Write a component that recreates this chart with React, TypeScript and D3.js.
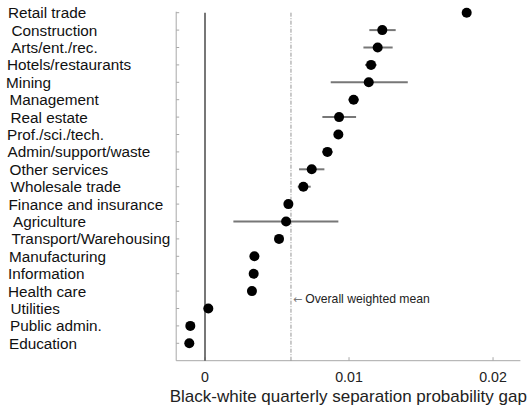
import React from "react";
import * as d3 from "d3";

// Industries, ordered top to bottom
const industries = [
  "Retail trade",
  "Construction",
  "Arts/ent./rec.",
  "Hotels/restaurants",
  "Mining",
  "Management",
  "Real estate",
  "Prof./sci./tech.",
  "Admin/support/waste",
  "Other services",
  "Wholesale trade",
  "Finance and insurance",
  "Agriculture",
  "Transport/Warehousing",
  "Manufacturing",
  "Information",
  "Health care",
  "Utilities",
  "Public admin.",
  "Education",
];

// Point estimates of the Black-white separation probability gap
const estimates = [
  0.01817, 0.01231, 0.01199, 0.01153, 0.01137, 0.01032, 0.00931, 0.00926,
  0.0085, 0.00741, 0.00683, 0.00579, 0.00563, 0.00514, 0.00343, 0.00338,
  0.00326, 0.00023, -0.00102, -0.00109,
];

// Confidence interval bounds
const ciLow = [
  0.01797, 0.01141, 0.011, 0.01111, 0.00873, 0.00995, 0.00815, 0.00906,
  0.00813, 0.00653, 0.00644, 0.00559, 0.00197, 0.00494, 0.00323, 0.00318,
  0.00306, 0.00003, -0.00122, -0.00129,
];
const ciHigh = [
  0.01837, 0.01324, 0.01303, 0.01192, 0.01408, 0.01069, 0.01049, 0.00946,
  0.00887, 0.00829, 0.00734, 0.00599, 0.00926, 0.00534, 0.00363, 0.00358,
  0.00346, 0.00043, -0.00082, -0.00089,
];

const overallMean = 0.00597;
const xTicks = [0, 0.01, 0.02];
const xTickLabels = ["0", "0.01", "0.02"];

// small per-label horizontal nudges of the category names
const labelNudge = [2, 5.5, 5, 1, 0, 3.5, 4.5, 1, 1.5, 3.5, 4.5, 2.5, 7, 5.5, 3, 2, 2, 4.5, 4, 3];

const W = 531;
const H = 405;
const FONT = "'Liberation Sans', Arial, Helvetica, sans-serif";

export default function App() {
  const x = d3.scaleLinear().domain([-0.002, 0.0219]).range([176.2, 520.4]);
  const y = d3.scaleLinear().domain([0, 20]).range([12.7, 360.7]);

  const [x0, x1] = x.range();
  const yTop = y(0);
  const yAxis = y(20);
  const rows = industries.map((name, i) => ({
    name,
    i,
    est: estimates[i],
    lo: ciLow[i],
    hi: ciHigh[i],
  }));

  return (
    <svg
      width={W}
      height={H}
      style={{ position: "absolute", left: 0, top: 0, background: "#fff" }}
      fontFamily={FONT}
    >
      {/* y axis with inward ticks */}
      <line x1={x0} x2={x0} y1={yTop - 1} y2={yAxis} stroke="#a8a8a8" strokeWidth={1} />
      {rows.map((r) => (
        <line key={"yt" + r.i} x1={x0} x2={x0 + 3} y1={y(r.i)} y2={y(r.i)} stroke="#a8a8a8" strokeWidth={1} />
      ))}

      {/* x axis with inward ticks */}
      <line x1={x0} x2={x1} y1={yAxis} y2={yAxis} stroke="#a8a8a8" strokeWidth={1} />
      {xTicks.map((t) => (
        <line key={"xt" + t} x1={x(t)} x2={x(t)} y1={yAxis} y2={yAxis - 3.5} stroke="#a8a8a8" strokeWidth={1} />
      ))}
      {xTicks.map((t, k) => (
        <text
          key={"xl" + t}
          x={x(t)}
          y={376.7}
          textAnchor="middle"
          dominantBaseline="central"
          fontSize={14.2}
          fill="#222"
        >
          {xTickLabels[k]}
        </text>
      ))}
      <text
        x={(x0 + x1) / 2}
        y={396.5}
        textAnchor="middle"
        dominantBaseline="central"
        fontSize={17}
        fill="#222"
      >
        Black-white quarterly separation probability gap
      </text>

      {/* zero reference */}
      <line x1={x(0)} x2={x(0)} y1={yTop} y2={yAxis} stroke="#555" strokeWidth={1.6} />

      {/* overall weighted mean */}
      <line
        x1={x(overallMean)}
        x2={x(overallMean)}
        y1={yTop}
        y2={yAxis}
        stroke="#8a8a8a"
        strokeWidth={0.9}
        strokeDasharray="4,1.5,1,1.5"
      />
      <text
        x={x(overallMean) + 2}
        y={y(16.45)}
        dominantBaseline="central"
        fontSize={12.2}
        fill="#222"
      >
        <tspan fill="#777" fontFamily="'DejaVu Sans', sans-serif" fontSize={11}>
          ←
        </tspan>
        <tspan dx={3}>Overall weighted mean</tspan>
      </text>

      {/* confidence intervals */}
      {rows.map((r) => (
        <line
          key={"ci" + r.i}
          x1={x(r.lo)}
          x2={x(r.hi)}
          y1={y(r.i)}
          y2={y(r.i)}
          stroke="#777"
          strokeWidth={2}
        />
      ))}

      {/* point estimates */}
      {rows.map((r) => (
        <circle key={"pt" + r.i} cx={x(r.est)} cy={y(r.i)} r={5} fill="#000" />
      ))}

      {/* industry labels */}
      {rows.map((r) => (
        <text
          key={"lab" + r.i}
          x={6 + labelNudge[r.i]}
          y={y(r.i)}
          dominantBaseline="central"
          fontSize={15.3}
          fill="#111"
        >
          {r.name}
        </text>
      ))}
    </svg>
  );
}
